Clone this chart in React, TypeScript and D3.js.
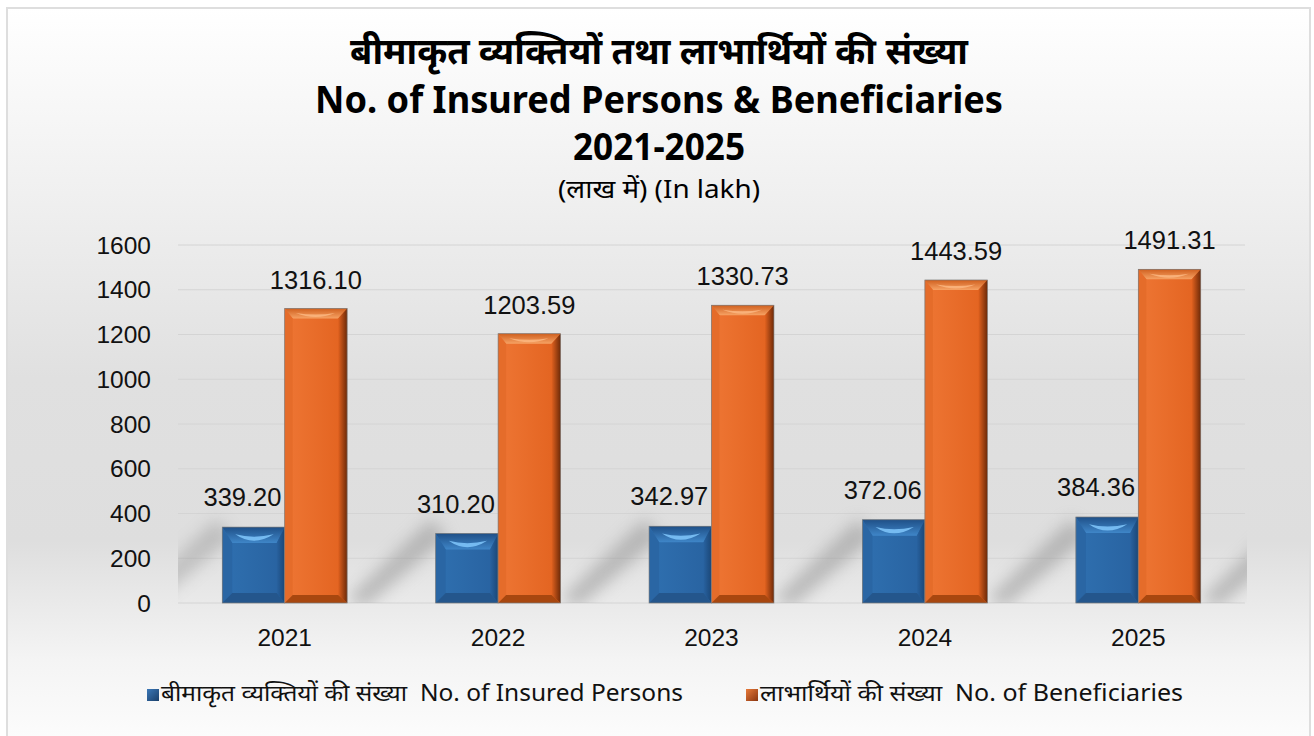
import React from "react";
import * as d3 from "d3";

const years = ["2021", "2022", "2023", "2024", "2025"];
const insured = [339.2, 310.2, 342.97, 372.06, 384.36];
const beneficiaries = [1316.1, 1203.59, 1330.73, 1443.59, 1491.31];
const yTicks = [0, 200, 400, 600, 800, 1000, 1200, 1400, 1600];
const titleLines = [
  "बीमाकृत व्यक्तियों तथा लाभार्थियों की संख्या",
  "No. of Insured Persons & Beneficiaries",
  "2021-2025",
];
const subtitle = "(लाख में) (In lakh)";
const legendLabels = [
  "बीमाकृत व्यक्तियों की संख्या  No. of Insured Persons",
  "लाभार्थियों की संख्या  No. of Beneficiaries",
];

const W = 1314;
const H = 736;
const plot = { left: 178, right: 1245, top: 245, bottom: 603 };
const FONT = "'Liberation Sans', Arial, sans-serif";
const TFONT = "'Noto Sans', 'Open Sans', sans-serif";

type Pal = { face1: string; face2: string; top1: string; top2: string; left: string; right: string; bottom: string; hi: string };
const blue: Pal = {
  face1: "#2f70b0",
  face2: "#2862a0",
  top1: "#1f5088",
  top2: "#3f86c8",
  left: "#2a66a4",
  right: "#1b4777",
  bottom: "#24568c",
  hi: "#7cc2f7",
};
const orange: Pal = {
  face1: "#ee7634",
  face2: "#e2621f",
  top1: "#d0601f",
  top2: "#f6a264",
  left: "#e56c2a",
  right: "#6e2a08",
  bottom: "#a8470f",
  hi: "#fbb57e",
};

function Bar({ x, y, w, h, pal, id, tall }: { x: number; y: number; w: number; h: number; pal: Pal; id: string; tall: boolean }) {
  const b = Math.min(tall ? 8 : 10, h / 3);
  const bt = Math.min(tall ? 10 : 16, h / 3);
  const br = tall ? 9 : 8;
  return (
    <g>
      <defs>
        <linearGradient id={`face-${id}`} x1="0" x2="1" y1="0" y2="0">
          <stop offset="0%" stopColor={pal.face1} />
          <stop offset="100%" stopColor={pal.face2} />
        </linearGradient>
        <linearGradient id={`top-${id}`} x1="0" x2="0" y1="0" y2="1">
          <stop offset="0%" stopColor={pal.top1} />
          <stop offset="100%" stopColor={pal.top2} />
        </linearGradient>
        <linearGradient id={`right-${id}`} x1="0" x2="1" y1="0" y2="0">
          <stop offset="0%" stopColor={pal.face2} />
          <stop offset="100%" stopColor={pal.right} />
        </linearGradient>
      </defs>
      <rect x={x} y={y} width={w} height={h} fill={`url(#face-${id})`} />
      <polygon
        points={`${x},${y} ${x + w},${y} ${x + w - br},${y + bt} ${x + b},${y + bt}`}
        fill={`url(#top-${id})`}
      />
      <path
        d={`M${x + b + 3},${y + bt * 0.45} Q${x + w / 2},${y + bt * 1.25} ${x + w - br - 3},${y + bt * 0.45} Q${x + w / 2},${y + bt * 0.75} ${x + b + 3},${y + bt * 0.45} Z`}
        fill={pal.hi}
        opacity={0.9}
      />
      <polygon
        points={`${x},${y} ${x + b},${y + bt} ${x + b},${y + h - b} ${x},${y + h}`}
        fill={pal.left}
      />
      <polygon
        points={`${x + w},${y} ${x + w - br},${y + bt} ${x + w - br},${y + h - b} ${x + w},${y + h}`}
        fill={`url(#right-${id})`}
      />
      <polygon
        points={`${x},${y + h} ${x + b},${y + h - b} ${x + w - br},${y + h - b} ${x + w},${y + h}`}
        fill={pal.bottom}
      />
      <rect x={x} y={y} width={w} height={h} fill="none" stroke="#7a7a7a" strokeWidth={0.7} />
    </g>
  );
}

export default function App() {
  const x0 = d3.scaleBand<string>().domain(years).range([plot.left, plot.right]);
  const groupW = x0.bandwidth() * 0.585;
  const x1 = d3.scaleBand<string>().domain(["insured", "beneficiaries"]).range([0, groupW]);
  const y = d3.scaleLinear().domain([0, 1600]).range([plot.bottom, plot.top]);

  const groupStart = (yr: string) => (x0(yr) as number) + (x0.bandwidth() - groupW) / 2;

  const shadow = (xr: number, key: string, op: number) => {
    const yb = plot.bottom;
    return (
      <polygon
        key={key}
        points={`${xr},${yb - 4} ${xr + 18},${yb + 4} ${xr + 100},${yb - 66} ${xr + 84},${yb - 84}`}
        fill="#8c8c8c"
        opacity={op}
        filter="url(#blur)"
      />
    );
  };

  return (
    <div style={{ position: "absolute", left: 0, top: 0 }}>
      <svg width={W} height={H} style={{ display: "block" }}>
        <defs>
          <linearGradient id="bg" x1="0" x2="0" y1="0" y2="1">
            <stop offset="0%" stopColor="#ffffff" />
            <stop offset="25%" stopColor="#f0f0f0" />
            <stop offset="50%" stopColor="#e0e0e0" />
            <stop offset="72%" stopColor="#dedede" />
            <stop offset="88%" stopColor="#f4f4f4" />
            <stop offset="100%" stopColor="#fdfdfd" />
          </linearGradient>
          <filter id="blur" x="-50%" y="-50%" width="200%" height="200%">
            <feGaussianBlur stdDeviation="8" />
          </filter>
          <clipPath id="plotClip">
            <rect x={plot.left} y={plot.top} width={plot.right - plot.left + 2} height={plot.bottom - plot.top} />
          </clipPath>
        </defs>
        <rect x={0} y={0} width={W} height={H} fill="#ffffff" />
        <rect x={7} y={8} width={1303} height={740} fill="url(#bg)" stroke="#dedede" strokeWidth={2} />

        {yTicks.map((t) => (
          <line key={t} x1={plot.left} x2={plot.right} y1={y(t)} y2={y(t)} stroke="#d4d4d4" strokeWidth={1} />
        ))}

        <g clipPath="url(#plotClip)">
          {years.map((yr) => shadow(groupStart(yr) + groupW, yr, 0.5))}
          {shadow(groupStart(years[0]) - 90, "first", 0.4)}
        </g>

        {years.map((yr, i) => {
          const gs = groupStart(yr);
          const bx = gs + (x1("insured") as number);
          const ox = gs + (x1("beneficiaries") as number);
          const bw = x1.bandwidth();
          return (
            <g key={yr}>
              <Bar id={`b${i}`} tall={false} x={bx} y={y(insured[i])} w={bw} h={y(0) - y(insured[i])} pal={blue} />
              <Bar id={`o${i}`} tall={true} x={ox} y={y(beneficiaries[i])} w={bw} h={y(0) - y(beneficiaries[i])} pal={orange} />
              <text x={bx + bw / 2 - 11} y={y(insured[i]) - 21} textAnchor="middle" fontFamily={FONT} fontSize={25.5} fill="#111">
                {insured[i].toFixed(2)}
              </text>
              <text x={ox + bw / 2} y={y(beneficiaries[i]) - 20} textAnchor="middle" fontFamily={FONT} fontSize={25.5} fill="#111">
                {beneficiaries[i].toFixed(2)}
              </text>
              <text x={(x0(yr) as number) + x0.bandwidth() / 2} y={646} textAnchor="middle" fontFamily={FONT} fontSize={24.5} fill="#111">
                {yr}
              </text>
            </g>
          );
        })}

        {yTicks.map((t) => (
          <text key={t} x={151} y={y(t) + 8.5} textAnchor="end" fontFamily={FONT} fontSize={24.5} fill="#111">
            {t}
          </text>
        ))}

        <text x={659} y={64} textAnchor="middle" fontFamily={TFONT} fontWeight="bold" fontSize={36} fill="#000"
          textLength={618} lengthAdjust="spacingAndGlyphs">
          {titleLines[0]}
        </text>
        <text x={659} y={113} textAnchor="middle" fontFamily={TFONT} fontWeight="bold" fontSize={37} fill="#000"
          textLength={688} lengthAdjust="spacingAndGlyphs">
          {titleLines[1]}
        </text>
        <text x={659} y={160} textAnchor="middle" fontFamily={TFONT} fontWeight="bold" fontSize={37} fill="#000"
          textLength={172} lengthAdjust="spacingAndGlyphs">
          {titleLines[2]}
        </text>
        <text x={659} y={198} textAnchor="middle" fontFamily={TFONT} fontSize={26} fill="#000"
          textLength={202} lengthAdjust="spacingAndGlyphs">
          {subtitle}
        </text>

        <defs>
          <linearGradient id="legB" x1="0" x2="1" y1="0" y2="1">
            <stop offset="0%" stopColor="#3b78b8" />
            <stop offset="100%" stopColor="#1a3f6a" />
          </linearGradient>
          <linearGradient id="legO" x1="0" x2="1" y1="0" y2="1">
            <stop offset="0%" stopColor="#e87a3a" />
            <stop offset="100%" stopColor="#8a3510" />
          </linearGradient>
        </defs>
        <rect x={147} y={689} width={12} height={12} fill="url(#legB)" />
        <text x={161} y={701} fontFamily={TFONT} fontSize={23} fill="#111" textLength={522} lengthAdjust="spacingAndGlyphs"
          style={{ whiteSpace: "pre" }}>
          {legendLabels[0]}
        </text>
        <rect x={746} y={689} width={12} height={12} fill="url(#legO)" />
        <text x={760} y={701} fontFamily={TFONT} fontSize={23} fill="#111" textLength={423} lengthAdjust="spacingAndGlyphs"
          style={{ whiteSpace: "pre" }}>
          {legendLabels[1]}
        </text>
      </svg>
    </div>
  );
}
